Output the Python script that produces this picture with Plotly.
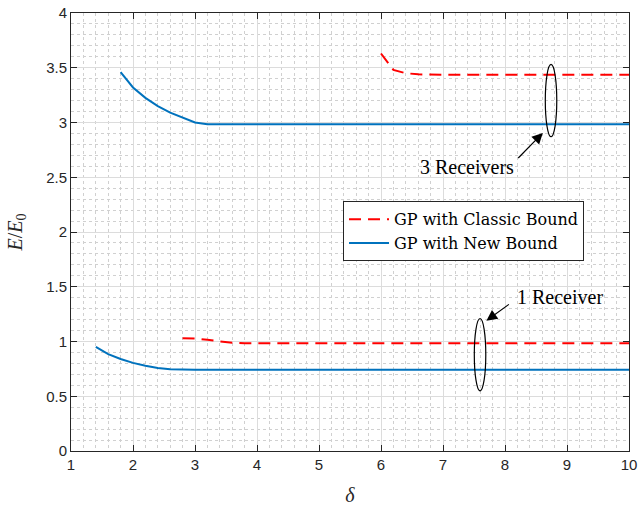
import plotly.graph_objects as go

# delta values and normalised energy E/E0 for each configuration
delta_new_3rx = [1.8, 2.0, 2.2, 2.4, 2.6, 2.8, 3.0, 3.2, 4.0, 6.0, 8.0, 10.0]
energy_new_3rx = [3.46, 3.32, 3.225, 3.15, 3.09, 3.045, 3.0, 2.985, 2.985, 2.985, 2.985, 2.985]

delta_classic_3rx = [6.0, 6.2, 6.4, 6.6, 7.0, 8.0, 9.0, 10.0]
energy_classic_3rx = [3.63, 3.48, 3.45, 3.44, 3.437, 3.437, 3.437, 3.437]

delta_new_1rx = [1.4, 1.6, 1.8, 2.0, 2.2, 2.4, 2.6, 2.8, 3.0, 4.0, 6.0, 8.0, 10.0]
energy_new_1rx = [0.95, 0.885, 0.84, 0.805, 0.778, 0.758, 0.746, 0.742, 0.742, 0.742, 0.742, 0.742, 0.742]

delta_classic_1rx = [2.8, 3.0, 3.2, 3.4, 3.6, 3.8, 4.0, 6.0, 8.0, 10.0]
energy_classic_1rx = [1.03, 1.027, 1.015, 1.0, 0.988, 0.985, 0.985, 0.985, 0.985, 0.985]

x_ticks = [1, 2, 3, 4, 5, 6, 7, 8, 9, 10]
y_ticks = [0, 0.5, 1, 1.5, 2, 2.5, 3, 3.5, 4]
y_tick_text = ["0", "0.5", "1", "1.5", "2", "2.5", "3", "3.5", "4"]

RED = "#FF0000"
BLUE = "#0072BD"
AXIS = "#262626"
SERIF = "Liberation Serif"

fig = go.Figure()

red_line = dict(color=RED, width=2, dash="12px,7px")
blue_line = dict(color=BLUE, width=2)

fig.add_trace(go.Scatter(x=delta_classic_3rx, y=energy_classic_3rx, mode="lines",
                         line=red_line, name="GP with Classic Bound"))
fig.add_trace(go.Scatter(x=delta_new_3rx, y=energy_new_3rx, mode="lines",
                         line=blue_line, name="GP with New Bound"))
fig.add_trace(go.Scatter(x=delta_classic_1rx, y=energy_classic_1rx, mode="lines",
                         line=red_line, showlegend=False))
fig.add_trace(go.Scatter(x=delta_new_1rx, y=energy_new_1rx, mode="lines",
                         line=blue_line, showlegend=False))

# ellipses grouping the curves of each receiver count
fig.add_shape(type="circle", xref="x", yref="y", x0=8.65, x1=8.835, y0=2.87, y1=3.53,
              line=dict(color="black", width=1.2))
fig.add_shape(type="circle", xref="x", yref="y", x0=7.505, x1=7.69, y0=0.55, y1=1.21,
              line=dict(color="black", width=1.2))

# arrows and their labels
fig.add_annotation(x=8.61, y=2.905, ax=8.19, ay=2.662, xref="x", yref="y",
                   axref="x", ayref="y", text="", showarrow=True,
                   arrowhead=2, arrowsize=1.8, arrowwidth=1.2, arrowcolor="black")
fig.add_annotation(x=7.39, y=2.59, xref="x", yref="y", text="3 Receivers",
                   showarrow=False, font=dict(family=SERIF, size=20, color="black"))

fig.add_annotation(x=7.70, y=1.19, ax=8.087, ay=1.349, xref="x", yref="y",
                   axref="x", ayref="y", text="", showarrow=True,
                   arrowhead=2, arrowsize=1.8, arrowwidth=1.2, arrowcolor="black")
fig.add_annotation(x=8.89, y=1.41, xref="x", yref="y", text="1 Receiver",
                   showarrow=False, font=dict(family=SERIF, size=20, color="black"))

axis_common = dict(
    showline=True, linecolor=AXIS, linewidth=1, mirror="allticks",
    ticks="inside", ticklen=6, tickcolor=AXIS, tickwidth=1,
    showgrid=True, gridcolor="#dcdcdc", gridwidth=1,
    zeroline=False, automargin=False,
    tickfont=dict(family="Liberation Sans", size=15, color=AXIS),
)

fig.update_xaxes(
    range=[1, 10], tickvals=x_ticks, ticktext=[str(v) for v in x_ticks],
    title=dict(text="<i>δ</i>", font=dict(family=SERIF, size=20, color=AXIS), standoff=18),
    minor=dict(dtick=0.2, showgrid=True, gridcolor="#d0d0d0", griddash="dot", gridwidth=1),
    **axis_common,
)
fig.update_yaxes(
    range=[0, 4], tickvals=y_ticks, ticktext=y_tick_text,
    title=dict(text="<i>E</i>/<i>E</i><sub>0</sub>", font=dict(family=SERIF, size=20, color=AXIS), standoff=18),
    minor=dict(dtick=0.1, showgrid=True, gridcolor="#d0d0d0", griddash="dot", gridwidth=1),
    **axis_common,
)

fig.update_layout(
    width=638, height=506,
    margin=dict(l=71, r=9, t=13, b=55),
    plot_bgcolor="white", paper_bgcolor="white",
    legend=dict(x=0.4875, y=0.570, xanchor="left", yanchor="top",
                bgcolor="white", bordercolor=AXIS, borderwidth=1,
                font=dict(family="DejaVu Serif", size=16, color="black"),
                tracegroupgap=0, itemwidth=40),
)

fig.write_html("out.html")
